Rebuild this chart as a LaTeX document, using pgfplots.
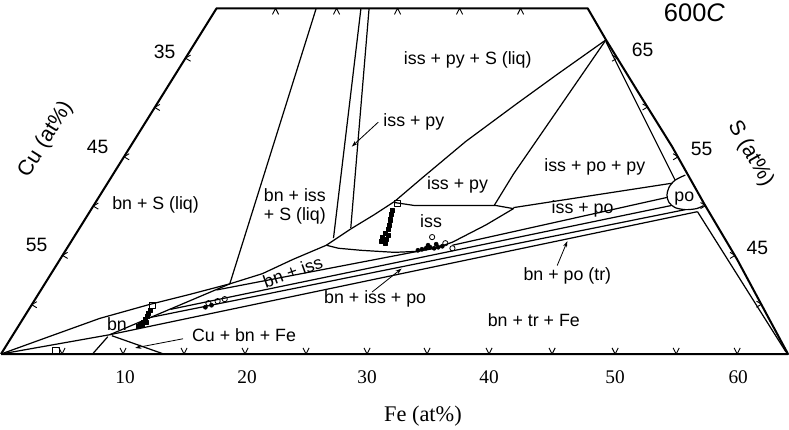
\documentclass[border=0pt]{standalone}
\usepackage{fontspec}
\setmainfont{Liberation Serif}
\newfontfamily\lsans{Liberation Sans}
\usepackage{pgfplots}
\pgfplotsset{compat=1.18}
\usetikzlibrary{arrows.meta}
\newcommand{\lab}{\lsans\fontsize{17.5}{19}\selectfont}
\begin{document}
\begin{tikzpicture}
\begin{axis}[width=789pt,height=432pt,scale only axis,
  xmin=0,xmax=789,ymin=0,ymax=432,y dir=reverse,
  axis lines=none,clip=false,unbounded coords=jump,
  cycle list={{black,solid,mark=none}},
  every axis plot/.append style={black,line width=1.2pt,line join=round},
  every node/.style={inner sep=0pt}]
% frame
\addplot[line width=2pt] coordinates {(13,357)(225,17)(590,17)(608,48)(640,100)(673,153)(705,210)(737,264)(787,357)(13,357)};
% ticks
\addplot[line width=0.9pt] coordinates {
(70,351)(73,357)(76,351)(nan,nan)(130,351)(133,357)(136,351)(nan,nan)
(190,351)(193,357)(196,351)(nan,nan)(250,351)(253,357)(256,351)(nan,nan)
(310,351)(313,357)(316,351)(nan,nan)(370,351)(373,357)(376,351)(nan,nan)
(429,351)(432,357)(435,351)(nan,nan)(490,351)(493,357)(496,351)(nan,nan)
(552,351)(555,357)(558,351)(nan,nan)(614,351)(617,357)(620,351)(nan,nan)
(674,351)(677,357)(680,351)(nan,nan)(734,351)(737,357)(740,351)(nan,nan)
(280,23)(283,17)(286,23)(nan,nan)(340,23)(343,17)(346,23)(nan,nan)
(400,23)(403,17)(406,23)(nan,nan)(461,23)(464,17)(467,23)(nan,nan)
(521,23)(524,17)(527,23)(nan,nan)
(199.4,63)(194.4,66)(199.4,69)(nan,nan)(169.2,111.5)(164.2,114.5)(169.2,117.5)(nan,nan)
(139,160)(134,163)(139,166)(nan,nan)(108.7,208.5)(103.7,211.5)(108.7,214.5)(nan,nan)
(78.5,257)(73.5,260)(78.5,263)(nan,nan)(48.2,305.5)(43.2,308.5)(48.2,311.5)(nan,nan)
(614,63)(619,66)(614,69)(nan,nan)(644,111)(649,114)(644,117)(nan,nan)
(674,160)(679,163)(674,166)(nan,nan)(701,208)(706,211)(701,214)(nan,nan)
(730,257)(735,260)(730,263)(nan,nan)(756,305)(761,308)(756,311)
};
% tie lines from top
\addplot coordinates {(323,17)(238,288)};
\addplot coordinates {(367,17)(340,243)};
\addplot coordinates {(375,17)(357,233)};
% iss - py lines
\addplot coordinates {(333,250)(357,234)(380,220)(400,207)(427,184)(470,148)(520,111)(560,82)(608,48)};
\addplot coordinates {(498,211)(517,180)(608,48)};
% iss lens
\addplot coordinates {(400,208)(420,211)(460,211)(500,211)(517,214)(490,230)(457,247)(440,253)(423,256)(400,257)(367,255)(345,253)(333,250)};
% iss - po
\addplot coordinates {(517,213)(673,189)};
\addplot coordinates {(457,250)(668,203)};
% bn field
\addplot coordinates {(13,357)(60,340)(110,322)(160,308)(200,298)(238,288)(270,278)(300,264)(333,250)};
\addplot coordinates {(13,357)(120,338)(238,288)};
% bn tie lines
\addplot coordinates {(225,294)(423,256)};
\addplot coordinates {(180,313)(672,211)};
\addplot coordinates {(160,321)(686,215)};
\addplot coordinates {(120,338)(698,217)};
\addplot coordinates {(103,357)(118,340)};
\addplot coordinates {(122,339)(173,357)};
% Fe-S side
\addplot coordinates {(608,50)(676,186)};
\addplot coordinates {(698,217)(785,355)};
\addplot[smooth] coordinates {(686,181)(676,186)(670,193)(668,201)(670,208)(676,213)(686,215)(697,214)(704,211)};
% arrows
\addplot[line width=0.8pt,-{Stealth[length=6pt,width=4pt]}] coordinates {(384,129)(358,153)};
\addplot[line width=0.8pt,-{Stealth[length=6pt,width=4pt]}] coordinates {(378,296)(407,273)};
\addplot[line width=0.8pt,-{Stealth[length=6pt,width=4pt]}] coordinates {(560,270)(570,246)};
\addplot[line width=0.8pt,-{Stealth[length=6pt,width=4pt]}] coordinates {(192,342)(145,351)};
% data marks
\addplot[only marks,mark=square,mark size=3pt,line width=0.9pt] coordinates {(162,309)(403,209)(67,354)};
\addplot[only marks,mark=square*,mark size=2pt,line width=0.6pt] coordinates {(160,314)(158,317)(157,320)(155,323)(153,326)(150,328)(148,330)(152,329)(156,326)
(398,216)(397,220)(396,225)(395,230)(394,234)(391,238)(394,240)(388,242)(392,244)(387,246)(391,248)(389,245)};
\addplot[only marks,mark=o,mark size=2.6pt,line width=0.8pt] coordinates {(217,307)(226,305)(233,303)(437,242)(450,248)(457,253)};
\addplot[only marks,mark=*,mark size=2pt,line width=0.6pt] coordinates {(214,311)(220,309)(423,255)(427,254)(431,253)(435,252)(439,253)(443,252)(447,251)(441,249)(433,250)};
% labels
\node[font=\lab] at (axis cs:472,68) {iss + py + S (liq)};
\node[font=\lab] at (axis cs:419,129) {iss + py};
\node[font=\lab,align=center] at (axis cs:302,212) {bn + iss\\+ S (liq)};
\node[font=\lab] at (axis cs:165,210) {bn + S (liq)};
\node[font=\lab] at (axis cs:462,191) {iss + py};
\node[font=\lab] at (axis cs:436,226) {iss};
\node[font=\lab] at (axis cs:597,173) {iss + po + py};
\node[font=\lab] at (axis cs:585,214) {iss + po};
\node[font=\lab] at (axis cs:685,204) {po};
\node[font=\lab] at (axis cs:570,280) {bn + po (tr)};
\node[font=\lab] at (axis cs:537,324) {bn + tr + Fe};
\node[font=\lab] at (axis cs:381,303) {bn + iss + po};
\node[font=\lab,rotate=20] at (axis cs:300,276) {bn + iss};
\node[font=\lab] at (axis cs:127,328) {bn};
\node[font=\lab] at (axis cs:252,338) {Cu + bn + Fe};
\node[font=\lsans\fontsize{25}{27}\selectfont] at (axis cs:695,21) {600\textit{C}};
\node[font=\lsans\fontsize{19}{21}\selectfont] at (axis cs:174,60) {35};
\node[font=\lsans\fontsize{19}{21}\selectfont] at (axis cs:108,153) {45};
\node[font=\lsans\fontsize{19}{21}\selectfont] at (axis cs:48,250) {55};
\node[font=\lsans\fontsize{19}{21}\selectfont] at (axis cs:644,58) {65};
\node[font=\lsans\fontsize{19}{21}\selectfont] at (axis cs:702,155) {55};
\node[font=\lsans\fontsize{19}{21}\selectfont] at (axis cs:757,253) {45};
\node[font=\fontsize{19}{21}\selectfont] at (axis cs:135,380) {10};
\node[font=\fontsize{19}{21}\selectfont] at (axis cs:255,380) {20};
\node[font=\fontsize{19}{21}\selectfont] at (axis cs:373,380) {30};
\node[font=\fontsize{19}{21}\selectfont] at (axis cs:493,380) {40};
\node[font=\fontsize{19}{21}\selectfont] at (axis cs:617,380) {50};
\node[font=\fontsize{19}{21}\selectfont] at (axis cs:738,380) {60};
\node[font=\fontsize{22}{24}\selectfont] at (axis cs:428,418) {Fe (at\%)};
\node[font=\lsans\fontsize{21}{23}\selectfont,rotate=58] at (axis cs:57,146) {Cu (at\%)};
\node[font=\lsans\fontsize{21}{23}\selectfont,rotate=-60] at (axis cs:750,160) {S (at\%)};
\end{axis}
\end{tikzpicture}
\end{document}
